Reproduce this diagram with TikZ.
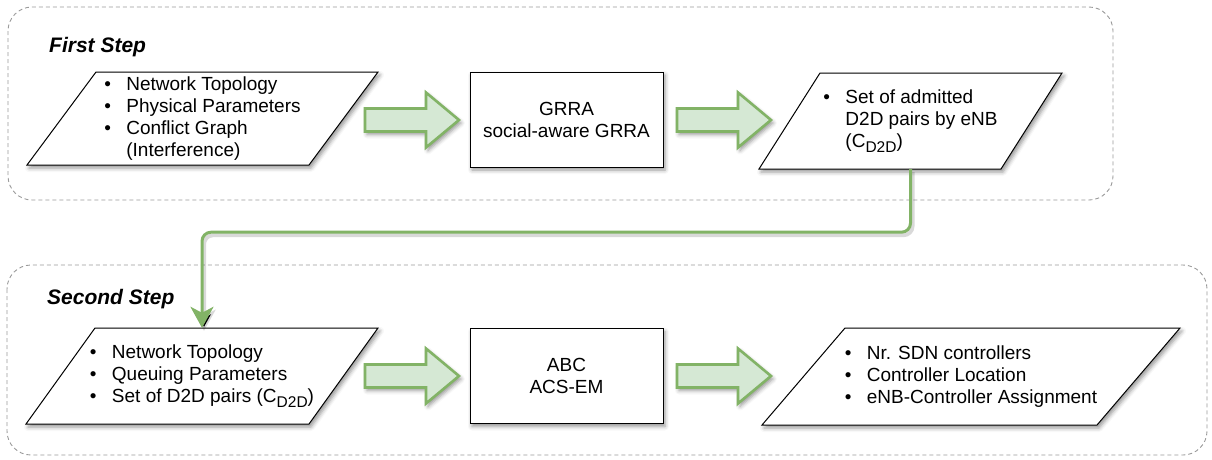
\documentclass[tikz,border=0pt]{standalone}
\usepackage{fontspec}
\setmainfont{Liberation Sans}
\usetikzlibrary{arrows.meta,calc,shadows.blur}

\definecolor{flowgreen}{HTML}{82B366}
\definecolor{flowfill}{HTML}{D5E8D4}
\definecolor{groupgray}{HTML}{9A9A9A}

% list helpers: bullet column and continuation indent
\newcommand{\bl}{\makebox[22pt][l]{\textbullet}}
\newcommand{\cont}{\hspace*{22pt}}
% lowered index for the D2D set symbol
\newcommand{\dsub}{\raisebox{-5pt}{\fontsize{15.5}{15.5}\selectfont D2D}}

% parallelogram (data) shape: name, centre, full width, height, slant, text
\newcommand{\ioshape}[6]{%
  \draw[iobox] ($(#2)+(-#3/2,#4/2)$) -- ($(#2)+(#3/2-#5,#4/2)$)
    -- ($(#2)+(#3/2,-#4/2)$) -- ($(#2)+(-#3/2+#5,-#4/2)$) -- cycle;
  \node[iotext, minimum width=#3pt, minimum height=#4pt] (#1) at (#2) {#6};}

% wide block arrow from tail coordinate to tip coordinate (horizontal)
\newcommand{\blockarrow}[2]{%
  \draw[bigarrow] ($(#1)+(0,-11.5)$) -- ($(#2)+(-33,-11.5)$) -- ($(#2)+(-33,-27.5)$)
    -- (#2) -- ($(#2)+(-33,27.5)$) -- ($(#2)+(-33,11.5)$) -- ($(#1)+(0,11.5)$) -- cycle;}

\begin{document}
\begin{tikzpicture}[x=1pt,y=-1pt,
  every node/.style={font=\fontsize{19}{22}\selectfont},
  softshadow/.style={blur shadow={shadow xshift=2pt,shadow yshift=-3pt,
      shadow blur radius=4pt,shadow opacity=42}},
  group/.style={draw=groupgray, dash pattern=on 4pt off 3pt, line width=0.9pt,
      rounded corners=24pt},
  steplabel/.style={font=\fontsize{21}{24}\selectfont\bfseries\itshape,
      inner sep=0pt, anchor=base west},
  procbox/.style={draw=black, fill=white, line width=1pt, softshadow,
      minimum width=193pt, minimum height=95pt, align=center, inner sep=0pt},
  iotext/.style={inner sep=0pt, align=left},
  iobox/.style={draw=black, fill=white, line width=1pt, line join=miter, softshadow},
  bigarrow/.style={draw=flowgreen, fill=flowfill, line width=2.6pt, line join=miter,
      softshadow},
  flow/.style={draw=flowgreen, line width=3pt, rounded corners=9pt,
      -{Stealth[length=21pt,width=23pt,inset=6pt]},
      preaction={draw=black, draw opacity=0.15, line width=4pt,
        transform canvas={xshift=2pt,yshift=-3pt}}}
]
\useasboundingbox (0,0) rectangle (1212,459);

% step groups
\draw[group] (8,7) rectangle (1113,200);
\draw[group] (7,265) rectangle (1207,455);
\node[steplabel] (s1) at (49,52) {First Step};
\node[steplabel] (s2) at (47,304) {Second Step};

% first step
\ioshape{p1}{202.5,118.5}{351}{93}{69}{\bl Network Topology\\\bl Physical Parameters\\\bl Conflict Graph\\\cont (Interference)}
\node[procbox] (grra) at (566.5,119.5) {GRRA\\social-aware GRRA};
\ioshape{p3}{910.5,121}{303}{96}{61}{\fontsize{19}{25.5}\selectfont\bl Set of admitted\\\cont D2D pairs by eNB\\\cont (C\dsub)}

\coordinate (a1t) at (365,120);
\coordinate (a1h) at (459,120);
\coordinate (a2t) at (677,120);
\coordinate (a2h) at (771,120);
\blockarrow{a1t}{a1h}
\blockarrow{a2t}{a2h}

% second step
\ioshape{p4}{202,376}{352}{96}{69}{\bl Network Topology\\\bl Queuing Parameters\\\bl Set of D2D pairs (C\dsub)}
\node[procbox] (abc) at (566.5,376) {ABC\\ACS-EM};
\ioshape{p6}{971,376.5}{418}{97}{83}{\bl Nr. SDN controllers\\\bl Controller Location\\\bl eNB-Controller Assignment}

\coordinate (a3t) at (365,376);
\coordinate (a3h) at (459,376);
\coordinate (a4t) at (677,376);
\coordinate (a4h) at (771,376);
\blockarrow{a3t}{a3h}
\blockarrow{a4t}{a4h}

% hand-over from the first step to the second
\draw[flow] (p3.south) -- ++(0,63) -| (p4.north);
\end{tikzpicture}
\end{document}
